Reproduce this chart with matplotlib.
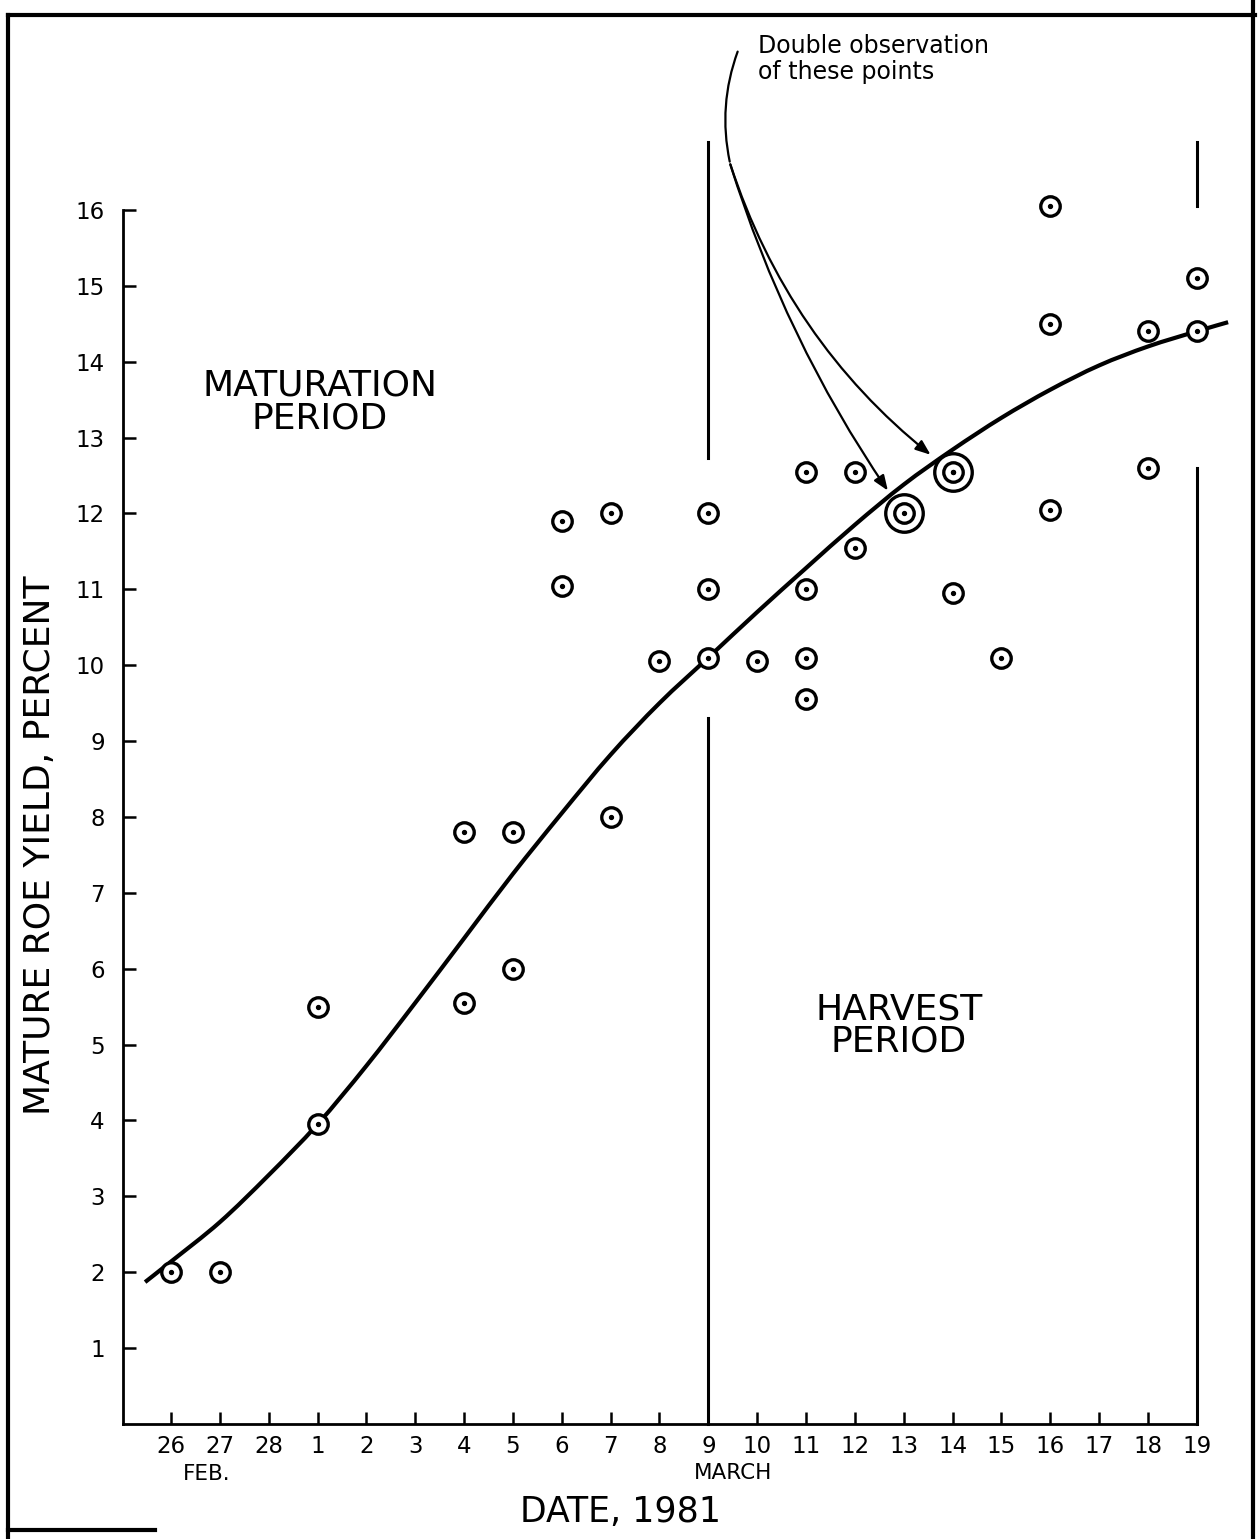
import matplotlib
matplotlib.use("Agg")
import matplotlib.pyplot as plt
from matplotlib.lines import Line2D
from matplotlib.path import Path
from matplotlib.patches import PathPatch

# Day index: 0 = Feb 26 ... 21 = Mar 19
day_labels = ["26", "27", "28", "1", "2", "3", "4", "5", "6", "7", "8",
              "9", "10", "11", "12", "13", "14", "15", "16", "17", "18", "19"]

# observed roe yield, percent
obs_day = [0, 1, 3, 3, 6, 6, 7, 7, 8, 8, 9, 9, 10, 11, 11, 11, 12,
           13, 13, 13, 13, 14, 14, 16, 16, 17, 18, 18, 18, 20, 20, 21, 21]
obs_yield = [2.0, 2.0, 5.5, 3.95, 7.8, 5.55, 7.8, 6.0, 11.9, 11.05, 12.0, 8.0,
             10.05, 12.0, 11.0, 10.1, 10.05, 12.55, 11.0, 10.1, 9.55, 12.55, 11.55,
             12.55, 10.95, 10.1, 16.05, 14.5, 12.05, 14.4, 12.6, 15.1, 14.4]

# points observed twice
double_day = [15, 16]
double_yield = [12.0, 12.55]

# fitted curve
curve_day = [-0.53, 0, 1, 2, 3, 4, 5, 6, 7, 8, 9, 10, 11, 12, 13,
             14, 15, 16, 17, 18, 19, 20, 21, 21.64]
curve_yield = [1.87, 2.14, 2.66, 3.28, 3.95, 4.72, 5.55, 6.4, 7.25, 8.05, 8.82,
               9.5, 10.1, 10.7, 11.28, 11.85, 12.38, 12.84, 13.26, 13.63,
               13.95, 14.2, 14.4, 14.52]

# period divider lines (day, [ (y0, y1), ... ])
dividers = [(11, [(12.73, 16.9), (0, 9.3)]),
            (21, [(16.05, 16.9), (0, 12.6)])]

W, H = 1260, 1539
fig = plt.figure(figsize=(W / 100, H / 100), dpi=100)

x0_px, x1_px = 122.8, 1245.7
y0_px, y1_px = 1424, 134
ax = fig.add_axes([x0_px / W, 1 - y0_px / H, (x1_px - x0_px) / W, (y0_px - y1_px) / H])
ax.set_xlim(-0.986, 22.0)
ax.set_ylim(0, 17.0)

for s in ["top", "right"]:
    ax.spines[s].set_visible(False)
ax.spines["left"].set_bounds(0, 16)
ax.spines["bottom"].set_bounds(-0.986, 21)
for s in ["left", "bottom"]:
    ax.spines[s].set_linewidth(2.0)

ax.set_xticks(range(len(day_labels)))
ax.set_xticklabels(day_labels)
ax.set_yticks(range(1, 17))
ax.tick_params(axis="both", direction="in", length=9, width=1.8, labelsize=16.5)
ax.tick_params(axis="y", pad=13)
ax.tick_params(axis="x", pad=8)

# fitted curve drawn as a smooth path through the read points
pts = list(zip(curve_day, curve_yield))
verts = [pts[0]]
codes = [Path.MOVETO]
for i in range(len(pts) - 1):
    p0 = pts[i - 1] if i > 0 else pts[i]
    p1, p2 = pts[i], pts[i + 1]
    p3 = pts[i + 2] if i + 2 < len(pts) else pts[i + 1]
    c1 = (p1[0] + (p2[0] - p0[0]) / 6, p1[1] + (p2[1] - p0[1]) / 6)
    c2 = (p2[0] - (p3[0] - p1[0]) / 6, p2[1] - (p3[1] - p1[1]) / 6)
    verts += [c1, c2, p2]
    codes += [Path.CURVE4] * 3
ax.add_patch(PathPatch(Path(verts, codes), fill=False, lw=3.0, edgecolor="black",
                       capstyle="butt", zorder=2))

# observations: ring with centre dot
ax.plot(obs_day, obs_yield, linestyle="none", marker="o", ms=14, mfc="white",
        mec="black", mew=2.4, zorder=3, clip_on=False)
ax.plot(double_day, double_yield, linestyle="none", marker="o", ms=27, mfc="white",
        mec="black", mew=2.4, zorder=3)
ax.plot(double_day, double_yield, linestyle="none", marker="o", ms=14, mfc="white",
        mec="black", mew=2.4, zorder=4)
ax.plot(obs_day + double_day, obs_yield + double_yield, linestyle="none", marker="o",
        ms=2.8, color="black", zorder=5, clip_on=False)

# period dividers
for dx, segs in dividers:
    for ya, yb in segs:
        ax.plot([dx, dx], [ya, yb], color="black", lw=2.2, clip_on=False, zorder=1)

ax.text(3.05, 13.47, "MATURATION\nPERIOD", ha="center", va="center", fontsize=26,
        linespacing=0.95)
ax.text(14.9, 5.25, "HARVEST\nPERIOD", ha="center", va="center", fontsize=26,
        linespacing=0.95)

# annotation for the double observations
branch = (11.45, 16.6)
ax.annotate("", xy=branch, xytext=(11.62, 18.12), xycoords="data",
            arrowprops=dict(arrowstyle="-", lw=1.6, color="black",
                            connectionstyle="arc3,rad=0.15"),
            annotation_clip=False)
for (dd, dy), rad in zip(zip(double_day, double_yield), [0.08, 0.16]):
    ax.annotate("", xy=(dd, dy), xytext=branch, xycoords="data",
                arrowprops=dict(arrowstyle="-|>,head_length=0.9,head_width=0.35",
                                lw=1.6, color="black", shrinkA=0, shrinkB=20,
                                connectionstyle=f"arc3,rad={rad}"),
                annotation_clip=False)
fig.text(758 / W, 1 - 34 / H, "Double observation\nof these points", ha="left",
         va="top", fontsize=17, linespacing=1.1)

# month labels and axis titles
fig.text(207 / W, 1 - 1474 / H, "FEB.", ha="center", va="center", fontsize=15.5)
fig.text(733 / W, 1 - 1473 / H, "MARCH", ha="center", va="center", fontsize=15.5)
fig.text(620 / W, 1 - 1512 / H, "DATE, 1981", ha="center", va="center", fontsize=25)
fig.text(40 / W, 1 - 845 / H, "MATURE ROE YIELD, PERCENT", ha="center", va="center",
         rotation=90, fontsize=26)

# page frame
frame = [([8, 8], [15, 1539]), ([8, 1255], [15, 15]), ([1253, 1253], [0, 1539]),
         ([8, 155], [1530, 1530])]
for xs, ys in frame:
    fig.add_artist(Line2D([x / W for x in xs], [1 - y / H for y in ys],
                          color="black", lw=3.0, transform=fig.transFigure))

fig.savefig("out.png", dpi=100, facecolor="white")
